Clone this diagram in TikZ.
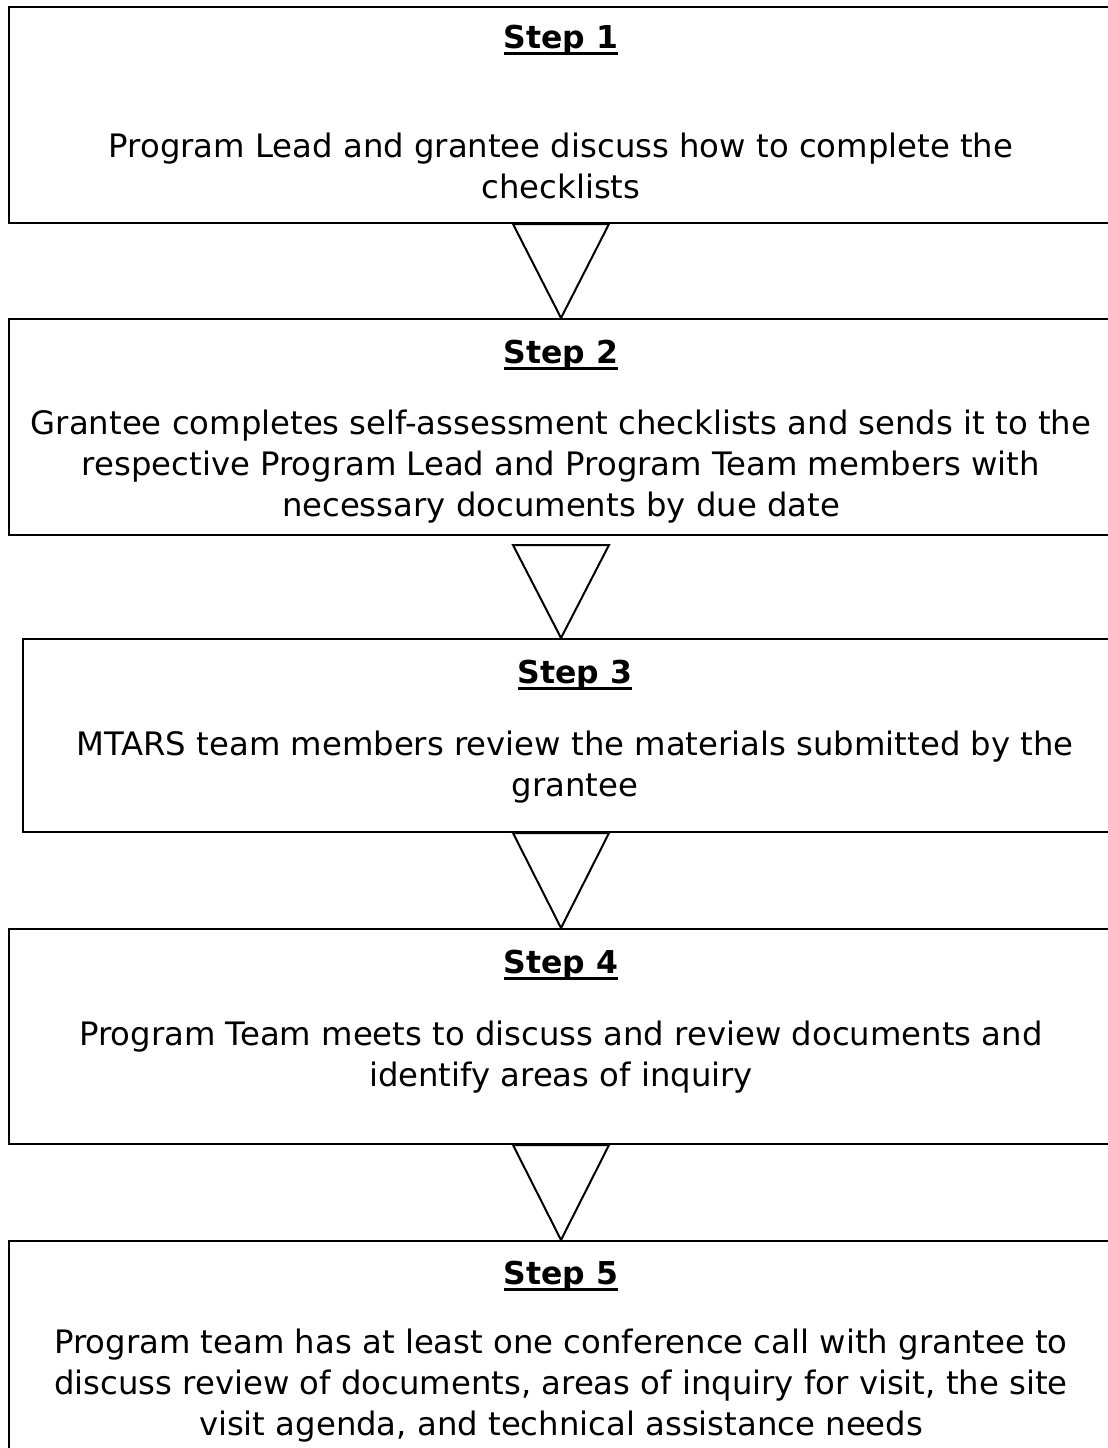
\documentclass[tikz,border=0pt]{standalone}
\usepackage{fontspec}
\setmainfont{DejaVu Sans}
\usetikzlibrary{calc}

\tikzset{
  stepbox/.style={draw, line width=2pt, minimum width=1105pt, anchor=north, inner sep=0pt},
  steptitle/.style={font=\fontsize{31.5}{36}\selectfont\bfseries, anchor=base, inner sep=0pt},
  steptext/.style={font=\fontsize{32.3}{41}\selectfont, align=center, inner sep=0pt},
  flow/.style={line width=2pt, line join=miter}
}

\begin{document}
\begin{tikzpicture}[x=1pt,y=-1pt]

\useasboundingbox (0,0) rectangle (1108,1448);

\coordinate (axis) at (561,0);

% Step 1
\node[stepbox, minimum height=216pt] (box1) at (561,6) {};
\node[steptitle] (title1) at ($(box1.north)+(0,42)$) {Step 1};
\node[steptext] (text1) at ($(box1.north)+(0,160)$)
{Program Lead and grantee discuss how to complete the\\checklists};

% Step 2
\node[stepbox, minimum height=216pt] (box2) at (561,318) {};
\node[steptitle] (title2) at ($(box2.north)+(0,45)$) {Step 2};
\node[steptext] (text2) at ($(box2.north)+(0,149)$)
{Grantee completes self-assessment checklists and sends it to the\\
respective Program Lead and Program Team members with\\
necessary documents by due date};

% Step 3
\node[stepbox, minimum height=193pt] (box3) at (575,638) {};
\node[steptitle] (title3) at ($(box3.north)+(0,45)$) {Step 3};
\node[steptext] (text3) at ($(box3.north)+(0,129)$)
{MTARS team members review the materials submitted by the\\grantee};

% Step 4
\node[stepbox, minimum height=215pt] (box4) at (561,928) {};
\node[steptitle] (title4) at ($(box4.north)+(0,45)$) {Step 4};
\node[steptext] (text4) at ($(box4.north)+(0,129)$)
{Program Team meets to discuss and review documents and\\identify areas of inquiry};

% Step 5
\node[stepbox, minimum height=260pt] (box5) at (561,1240) {};
\node[steptitle] (title5) at ($(box5.north)+(0,44)$) {Step 5};
\node[steptext] (text5) at ($(box5.north)+(0,146)$)
{Program team has at least one conference call with grantee to\\
discuss review of documents, areas of inquiry for visit, the site\\
visit agenda, and technical assistance needs};

% Underlines
\foreach \t in {title1,title2,title3,title4,title5}
{
\draw[line width=3pt] ($(\t.base west)+(0,5)$) -- ($(\t.base east)+(0,5)$);
}

% Triangles
\foreach \a/\b/\g in {box1/box2/0, box2/box3/9, box3/box4/0, box4/box5/0}
{
\draw[flow] ($(\a.south -| axis)+(-48,\g)$) -- ($(\a.south -| axis)+(48,\g)$)
  -- (\b.north -| axis) -- cycle;
}

\end{tikzpicture}
\end{document}
